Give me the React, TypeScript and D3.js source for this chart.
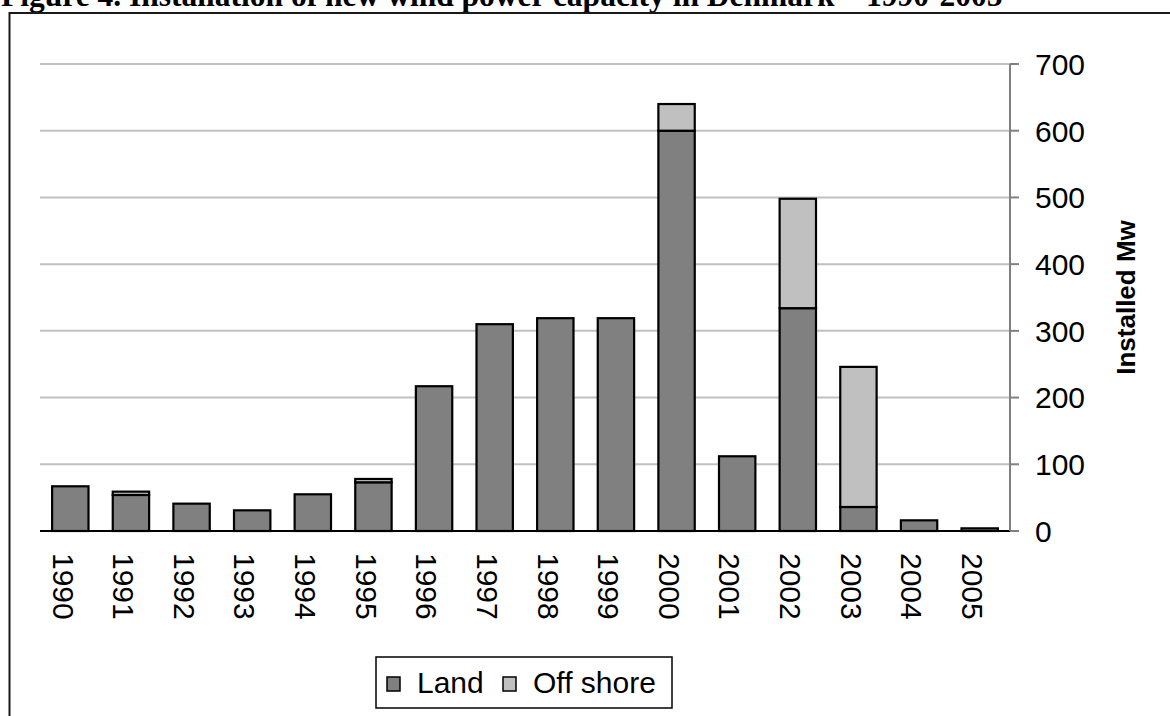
import React from "react";
import * as d3 from "d3";

// New wind power capacity installed in Denmark per year (MW)
const years = ["1990", "1991", "1992", "1993", "1994", "1995", "1996", "1997",
  "1998", "1999", "2000", "2001", "2002", "2003", "2004", "2005"];
const landMw = [67, 54, 41, 31, 55, 73, 217, 310, 319, 319, 600, 112, 334, 36, 16, 4];
const offshoreMw = [0, 5, 0, 0, 0, 5, 0, 0, 0, 0, 40, 0, 164, 210, 0, 0];
const yTicks = [0, 100, 200, 300, 400, 500, 600, 700];
const seriesNames = ["Land", "Off shore"];
const seriesColors = ["#808080", "#C0C0C0"];

const W = 1170;
const H = 716;
const plot = { left: 40, right: 1010, top: 64, bottom: 531 };
const SANS = "'Liberation Sans', Arial, sans-serif";
const SERIF = "'Liberation Serif', 'Times New Roman', serif";

export default function App() {
  const rows = years.map((y, i) => ({ year: y, land: landMw[i], offshore: offshoreMw[i] }));
  const stacked = d3.stack<any>().keys(["land", "offshore"])(rows);

  const x = d3.scaleBand<string>()
    .domain(years)
    .range([plot.left, plot.right])
    .paddingInner(0.4)
    .paddingOuter(0.2);
  const y = d3.scaleLinear().domain([0, 700]).range([plot.bottom, plot.top]);

  return (
    <svg width={W} height={H} style={{ position: "absolute", left: 0, top: 0, background: "#fff" }}>
      {/* figure caption */}
      <text x={1} y={6} fontFamily={SERIF} fontWeight="bold" fontSize={31.5} fill="#000">
        Figure 4. Installation of new wind power capacity in Denmark – 1990-2005
      </text>

      {/* chart frame */}
      <rect x={9.5} y={13} width={W} height={H} fill="none" stroke="#1a1a1a" strokeWidth={2} />

      {/* gridlines */}
      {yTicks.filter((t) => t > 0).map((t) => (
        <line key={t} x1={plot.left} x2={plot.right} y1={y(t)} y2={y(t)} stroke="#C0C0C0" strokeWidth={2} />
      ))}

      {/* stacked bars */}
      {stacked.map((s, si) => (
        <g key={s.key} fill={seriesColors[si]} stroke="#000" strokeWidth={2.2}>
          {s.map((d, i) =>
            d[1] - d[0] > 0 ? (
              <rect
                key={i}
                x={x(years[i])!}
                width={x.bandwidth()}
                y={y(d[1])}
                height={y(d[0]) - y(d[1])}
              />
            ) : null
          )}
        </g>
      ))}

      {/* category axis baseline */}
      <line x1={plot.left} x2={plot.right} y1={y(0)} y2={y(0)} stroke="#000" strokeWidth={2} />

      {/* value axis on the right */}
      <line x1={plot.right} x2={plot.right} y1={y(700)} y2={y(0)} stroke="#808080" strokeWidth={2} />
      {yTicks.map((t) => (
        <g key={t}>
          <line x1={plot.right} x2={plot.right + 9} y1={y(t)} y2={y(t)} stroke="#808080" strokeWidth={2} />
          <text
            x={plot.right + 25}
            y={y(t)}
            dy="0.36em"
            fontFamily={SANS}
            fontSize={30}
            fill="#000"
          >
            {t}
          </text>
        </g>
      ))}
      <text
        transform={`translate(1126, ${(y(350))}) rotate(-90)`}
        textAnchor="middle"
        dy="0.36em"
        fontFamily={SANS}
        fontWeight="bold"
        fontSize={26}
        fill="#000"
      >
        Installed Mw
      </text>

      {/* year labels, rotated to read downward */}
      {years.map((yr) => (
        <text
          key={yr}
          transform={`translate(${x(yr)! + x.bandwidth() / 2 - 7}, 553) rotate(90)`}
          dy="0.36em"
          fontFamily={SANS}
          fontSize={30}
          fill="#000"
        >
          {yr}
        </text>
      ))}

      {/* legend */}
      <rect x={376} y={657} width={296} height={51} fill="#fff" stroke="#000" strokeWidth={1.5} />
      {seriesNames.map((name, i) => {
        const lx = i === 0 ? 387 : 503;
        return (
          <g key={name}>
            <rect x={lx} y={677} width={13} height={14} fill={seriesColors[i]} stroke="#000" strokeWidth={1.5} />
            <text x={lx + 30} y={693} fontFamily={SANS} fontSize={30} fill="#000">
              {name}
            </text>
          </g>
        );
      })}
    </svg>
  );
}
